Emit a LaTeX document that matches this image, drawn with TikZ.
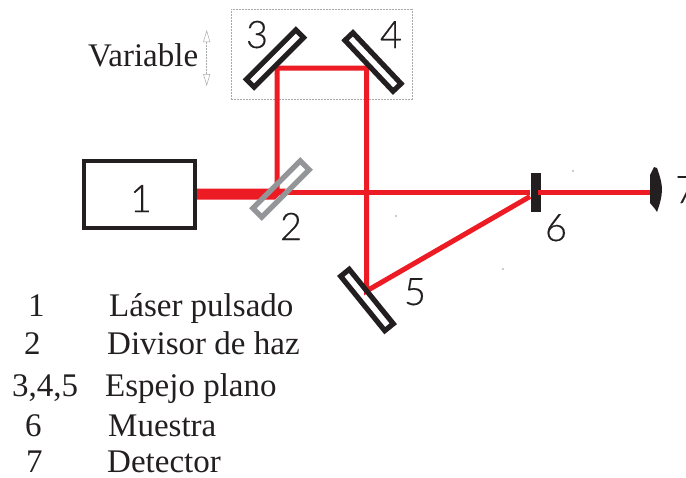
\documentclass[tikz,border=0pt]{standalone}
\usepackage{fontspec}
\setmainfont{Liberation Serif}
\newfontfamily\labfont{Lato}[UprightFont=* Light,FakeBold=0.4]
\usetikzlibrary{arrows.meta}
\definecolor{beam}{HTML}{ED1C24}
\definecolor{ink}{HTML}{231F20}
\definecolor{split}{HTML}{939598}
\definecolor{faint}{HTML}{A7A9AC}
\tikzset{
  mirror/.style={draw=ink,line width=5.2pt,minimum width=70pt,minimum height=11pt,inner sep=0pt,outer sep=0pt},
  splitter/.style={mirror,draw=split,minimum width=67pt,minimum height=12.5pt},
  ray/.style={draw=beam,line width=5pt},
  numlabel/.style={font=\labfont\fontsize{38}{38}\selectfont,text=ink,anchor=base,inner sep=0pt},
  legend/.style={font=\fontsize{33}{33}\selectfont,text=ink,anchor=base west,inner sep=0pt},
  speck/.style={fill=ink,circle,inner sep=0pt,minimum size=1.2pt}
}
\begin{document}
\begin{tikzpicture}[x=1pt,y=-1pt]
\useasboundingbox (0,0) rectangle (686,477);
% variable box
\node (varbox) [draw=faint,line width=.5pt,dash pattern=on 2pt off 1pt,minimum width=180.5pt,minimum height=90pt,inner sep=0pt,outer sep=0pt,anchor=north west] at (231.3,9.3) {};
% coordinates of the beam
\coordinate (b1) at (277,192);
\coordinate (b2) at (277,68);
\coordinate (b3) at (366.5,68);
\coordinate (b4) at (366.5,291);
\coordinate (b5) at (530,196.5);
\coordinate (b6) at (530,192);
\coordinate (b7) at (538,192);
\coordinate (b8) at (652,192);
\coordinate (a1) at (206.7,30);
\coordinate (a2) at (206.7,86);
% rays
\draw[ray,line join=miter] (b1) -- (b2) -- (b3) -- (b4) -- (b5);
\draw[ray] (b1) -- (b6);
% thick beam
\fill[beam] (195,188.5) -- (286,188.5) -- (275,199.5) -- (195,199.5) -- cycle;
% components
\node (laser) [draw=ink,line width=4.6pt,minimum width=111pt,minimum height=67pt,inner sep=0pt,outer sep=0pt,anchor=north west] at (84,161) {};
\node (m2) [splitter,rotate=45] at (281,189) {};
\node (m3) [mirror,rotate=45] at (275,58.5) {};
\node (m4) [mirror,rotate=-46.6] at (373,62) {};
\node (m5) [mirror,rotate=-51] at (367,300) {};
\node (sample) [fill=ink,minimum width=10pt,minimum height=39pt,inner sep=0pt,outer sep=0pt,anchor=north west] at (530.7,173) {};
\draw[ray] (b7) -- (b8);
\fill[ink] (654,167) -- (657,168) .. controls (660,176) and (662,184) .. (662,189) .. controls (662,196) and (660,204) .. (657,212) -- (655,209) -- (650,203) -- (650,175) -- cycle;
% double arrow
\draw[faint,line width=.5pt,dash pattern=on 2pt off 1pt,{Triangle[open,fill=white,length=12pt,width=7pt]}-{Triangle[open,fill=white,length=12pt,width=7pt]}] (a1) -- (a2);
% number labels
\node (n1) [numlabel] at (141,212) {1};
\node (n2) [numlabel] at (291,240) {2};
\node (n3) [numlabel] at (257,48) {3};
\node (n4) [numlabel] at (391,48) {4};
\node (n5) [numlabel] at (415,305) {5};
\node (n6) [numlabel] at (556,241) {6};
\node (n7) [numlabel,anchor=base west] at (675,203) {7};
% text
\node (var) [legend,font=\fontsize{33}{33}\selectfont] at (88,66) {Variable};
\node (l1a) [legend] at (28,316) {1};
\node (l1b) [legend] at (109,316) {Láser pulsado};
\node (l2a) [legend] at (24,354) {2};
\node (l2b) [legend] at (107,354) {Divisor de haz};
\node (l3a) [legend] at (12,396) {3,4,5};
\node (l3b) [legend] at (105,396) {Espejo plano};
\node (l4a) [legend] at (25,436) {6};
\node (l4b) [legend] at (108,436) {Muestra};
\node (l5a) [legend] at (26,472) {7};
\node (l5b) [legend] at (107,472) {Detector};
% specks
\node (s1) [speck] at (573,171) {};
\node (s2) [speck] at (396,216) {};
\node (s3) [speck] at (503,269) {};
\end{tikzpicture}
\end{document}
